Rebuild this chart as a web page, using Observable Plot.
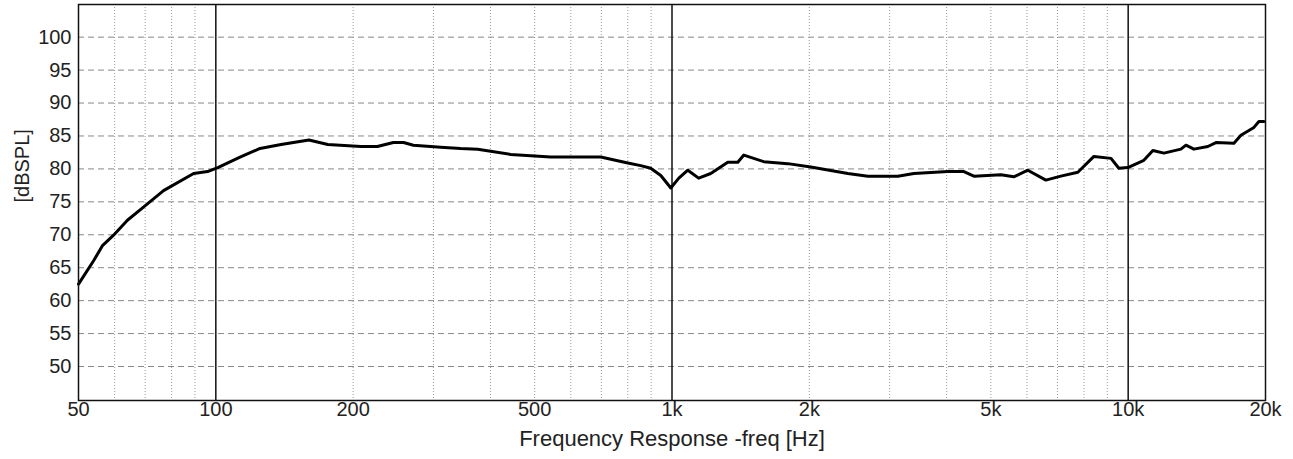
<!DOCTYPE html>
<html>
<head>
<meta charset="utf-8">
<script src="https://cdn.jsdelivr.net/npm/d3@7"></script>
<script src="https://cdn.jsdelivr.net/npm/@observablehq/plot@0.6"></script>
<style>
  html, body { margin: 0; padding: 0; background: #fff; }
  #chart svg { display: block; }
</style>
</head>
<body>
<div id="chart"></div>
<script>
// Frequency response data (Hz, dB SPL)
const freq = [50, 54, 56.5, 59.6, 64, 69.4, 76.8, 89.4, 95.9, 101, 113, 125, 139, 160, 176, 208, 226, 245, 258, 271, 311, 344, 375, 443, 542, 698, 800, 854, 898, 945, 994, 1035, 1083, 1144, 1216, 1325, 1394, 1437, 1589, 1794, 2015, 2429, 2688, 3127, 3390, 4024, 4364, 4589, 5261, 5615, 6026, 6600, 7120, 7757, 8412, 9170, 9540, 9983, 10823, 11329, 11975, 13050, 13385, 13934, 14950, 15575, 17053, 17665, 18865, 19345, 19843];
const spl  = [62.5, 66.1, 68.4, 69.9, 72.2, 74.2, 76.7, 79.3, 79.6, 80.2, 81.8, 83.1, 83.7, 84.4, 83.7, 83.4, 83.4, 84.0, 84.0, 83.6, 83.3, 83.1, 83.0, 82.2, 81.8, 81.8, 80.9, 80.5, 80.1, 79.0, 77.1, 78.6, 79.8, 78.6, 79.3, 81.0, 81.0, 82.1, 81.1, 80.8, 80.3, 79.3, 78.9, 78.9, 79.3, 79.6, 79.6, 78.9, 79.1, 78.8, 79.8, 78.3, 78.9, 79.5, 81.9, 81.6, 80.1, 80.2, 81.3, 82.8, 82.4, 83.0, 83.6, 83.0, 83.4, 84.0, 83.9, 85.1, 86.3, 87.2, 87.2];

const xTicks = [50, 100, 200, 500, 1000, 2000, 5000, 10000, 20000];
const xTickLabels = ["50", "100", "200", "500", "1k", "2k", "5k", "10k", "20k"];
const xMinorGrid = [60, 70, 80, 90, 200, 300, 400, 500, 600, 700, 800, 900, 2000, 3000, 4000, 5000, 6000, 7000, 8000, 9000];
const xMajorGrid = [100, 1000, 10000];
const yTicks = [50, 55, 60, 65, 70, 75, 80, 85, 90, 95, 100];

const xLabel = "Frequency Response -freq [Hz]";
const yLabel = "[dBSPL]";

const data = freq.map((f, i) => ({f, db: spl[i]}));
const xTickData = xTicks.map((t, i) => ({t, label: xTickLabels[i]}));

const chart = Plot.plot({
  width: 1293,
  height: 459,
  marginLeft: 78,
  marginRight: 28,
  marginTop: 4,
  marginBottom: 59,
  style: { fontFamily: "'Liberation Sans', Arial, sans-serif", background: "#fff", color: "#222" },
  x: { type: "log", domain: [50, 20000], axis: null },
  y: { domain: [44.84, 104.96] },
  marks: [
    Plot.ruleY(yTicks, { y: d => d, stroke: "#888", strokeWidth: 1, strokeDasharray: "6,4" }),
    Plot.ruleX(xMinorGrid, { x: d => d, stroke: "#999", strokeWidth: 1, strokeDasharray: "1,2" }),
    Plot.ruleX(xMajorGrid, { x: d => d, stroke: "#111", strokeWidth: 1.5 }),
    Plot.line(data, { x: "f", y: "db", stroke: "#000", strokeWidth: 3, strokeLinejoin: "round" }),
    Plot.frame({ stroke: "#111", strokeWidth: 1.5 }),
    Plot.text(xTickData, { x: "t", text: "label", frameAnchor: "bottom", dy: 15, fontSize: 20, fill: "#222" }),
    Plot.axisY({ ticks: yTicks, tickSize: 0, tickPadding: 7, fontSize: 20, label: null }),
    Plot.text([xLabel], { frameAnchor: "bottom", dy: 45, fontSize: 22, fill: "#222" }),
    Plot.text([yLabel], { frameAnchor: "left", rotate: -90, dx: -56, fontSize: 20, fill: "#222" })
  ]
});
document.getElementById("chart").appendChild(chart);
</script>
</body>
</html>
